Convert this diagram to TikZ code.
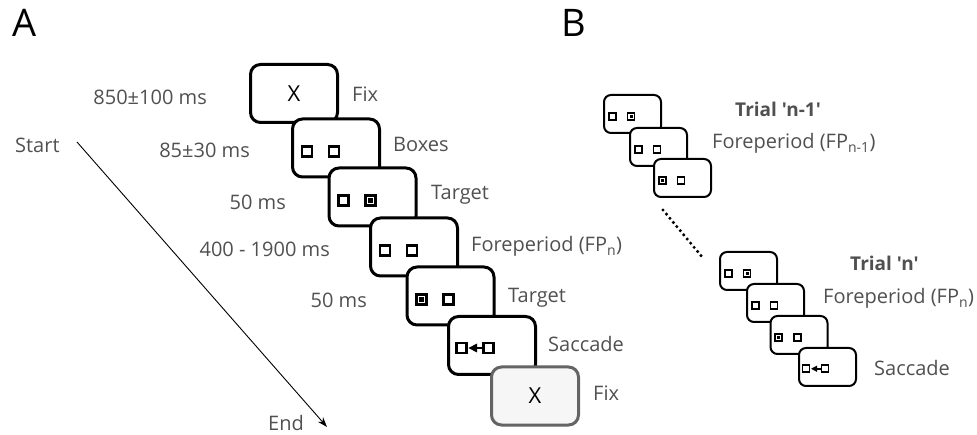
\documentclass[tikz,border=0pt]{standalone}
\usepackage{fontspec}
\setmainfont{Open Sans}[Ligatures=TeXOff]
\usetikzlibrary{calc,arrows.meta}
\definecolor{txt}{RGB}{80,80,80}
\definecolor{lastfill}{RGB}{246,246,246}
\definecolor{laststroke}{RGB}{100,100,100}
\tikzset{
  sqlw/.store in=\sqlw, sqlw=2.2pt,
  plainsq/.pic={\draw[line width=\sqlw] (-5,-5) rectangle (5,5);},
  targsq/.pic={\draw[line width=\sqlw] (-5,-5) rectangle (5,5);
               \fill (-2.1,-2.1) rectangle (2.1,2.1);},
  sacc/.pic={\draw[line width=\sqlw] (-5,-5) rectangle (5,5);
             \draw[line width=\sqlw] (22,-5) rectangle (32,5);
             \fill (7,0) -- (15.5,-4.5) -- (15.5,4.5) -- cycle;
             \draw[line width=\sqlw] (14,0) -- (22,0);},
}
\newcommand\twosq[5]{%
  \pic[scale=#2, sqlw=#3] at ($(#1.center)+({-29*#2},{3.5*#2})$) {#4};
  \pic[scale=#2, sqlw=#3] at ($(#1.center)+({-2*#2},{3.5*#2})$) {#5};}
\newcommand\saccicon[3]{%
  \pic[scale=#2, sqlw=#3] at ($(#1.center)+({-30.5*#2},{2.5*#2})$) {sacc};}
\begin{document}
\begin{tikzpicture}[x=1pt,y=-1pt,
  lbl/.style={text=txt, font=\fontsize{20}{24}\selectfont, inner sep=0pt},
  tlbl/.style={lbl, font=\fontsize{19}{24}\selectfont\bfseries},
  panel/.style={inner sep=0pt, font=\fontsize{38}{44}\selectfont, anchor=base west},
  scrA/.style={draw, line width=3pt, rounded corners=10pt, fill=white,
               minimum width=87pt, minimum height=58pt, inner sep=0pt,
               font=\fontsize{22}{26}\selectfont},
  lastscr/.style={scrA, draw=laststroke, fill=lastfill},
  scrB/.style={draw, line width=2pt, rounded corners=7pt, fill=white,
               minimum width=57pt, minimum height=38pt, inner sep=0pt},
]
\useasboundingbox (0,0) rectangle (977,435);

% panel letters
\node[panel] (pA) at (12,37) {A};
\node[panel] (pB) at (561,37) {B};

% ---------- Panel A ----------
\node[scrA] (a1) at (294,93.5) {X};
\node[scrA] (a2) at (336,148) {};
\twosq{a2}{1}{2.2pt}{plainsq}{plainsq}
\node[scrA] (a3) at (372.5,197) {};
\twosq{a3}{1}{2.2pt}{plainsq}{targsq}
\node[scrA] (a4) at (414,247) {};
\twosq{a4}{1}{2.2pt}{plainsq}{plainsq}
\node[scrA] (a5) at (450.5,296) {};
\twosq{a5}{1}{2.2pt}{targsq}{plainsq}
\node[scrA] (a6) at (492,345.5) {};
\saccicon{a6}{1}{2.2pt}
\node[lastscr] (a7) at (535,396) {X};

% durations
\node[lbl, anchor=base east] (t1) at (207,105) {850±100 ms};
\node[lbl, anchor=base east] (t2) at (250,158) {85±30 ms};
\node[lbl, anchor=base east] (t3) at (286,210) {50 ms};
\node[lbl, anchor=base east] (t4) at (330,257) {400 - 1900 ms};
\node[lbl, anchor=base east] (t5) at (367,308) {50 ms};

% event names
\node[lbl, anchor=base west] (e1) at (352,102) {Fix};
\node[lbl, anchor=base west] (e2) at (393,152) {Boxes};
\node[lbl, anchor=base west] (e3) at (431,200) {Target};
\node[lbl, anchor=base west] (e4) at (471,252) {Foreperiod (FP\textsubscript{n})};
\node[lbl, anchor=base west] (e5) at (508,303) {Target};
\node[lbl, anchor=base west] (e6) at (548,352) {Saccade};
\node[lbl, anchor=base west] (e7) at (593,400) {Fix};

% time arrow
\node[lbl, anchor=base west] (start) at (15,153) {Start};
\node[lbl, anchor=base west] (end) at (268,430) {End};
\coordinate (s0) at (77,142);
\coordinate (s1) at (327,427);
\draw[line width=0.9pt, -{Stealth[length=10pt,width=7pt]}] (s0) -- (s1);

% ---------- Panel B ----------
\node[scrB] (b1) at (632.5,114) {};
\twosq{b1}{0.7}{1.6pt}{plainsq}{targsq}
\node[scrB] (b2) at (658.5,147) {};
\twosq{b2}{0.7}{1.6pt}{plainsq}{plainsq}
\node[scrB] (b3) at (682.5,178) {};
\twosq{b3}{0.7}{1.6pt}{targsq}{plainsq}

\node[tlbl, anchor=base west] (tr1) at (735,117) {Trial 'n-1'};
\node[lbl, anchor=base west] (fp1) at (712,149) {Foreperiod (FP\textsubscript{n-1})};

\coordinate (d1) at (663,210);
\coordinate (d2) at (703,258);
\draw[line width=3.4pt, line cap=round, dash pattern=on 0pt off 5.4pt] (d1) -- (d2);

\node[scrB] (b4) at (748.5,271) {};
\twosq{b4}{0.7}{1.6pt}{plainsq}{targsq}
\node[scrB] (b5) at (775.5,303) {};
\twosq{b5}{0.7}{1.6pt}{plainsq}{plainsq}
\node[scrB] (b6) at (799,335) {};
\twosq{b6}{0.7}{1.6pt}{targsq}{plainsq}
\node[scrB] (b7) at (827.5,367) {};
\saccicon{b7}{0.7}{1.6pt}

\node[tlbl, anchor=base west] (tr2) at (850,271) {Trial 'n'};
\node[lbl, anchor=base west] (fp2) at (823,304) {Foreperiod (FP\textsubscript{n})};
\node[lbl, anchor=base west] (sc2) at (874,376) {Saccade};
\end{tikzpicture}
\end{document}
